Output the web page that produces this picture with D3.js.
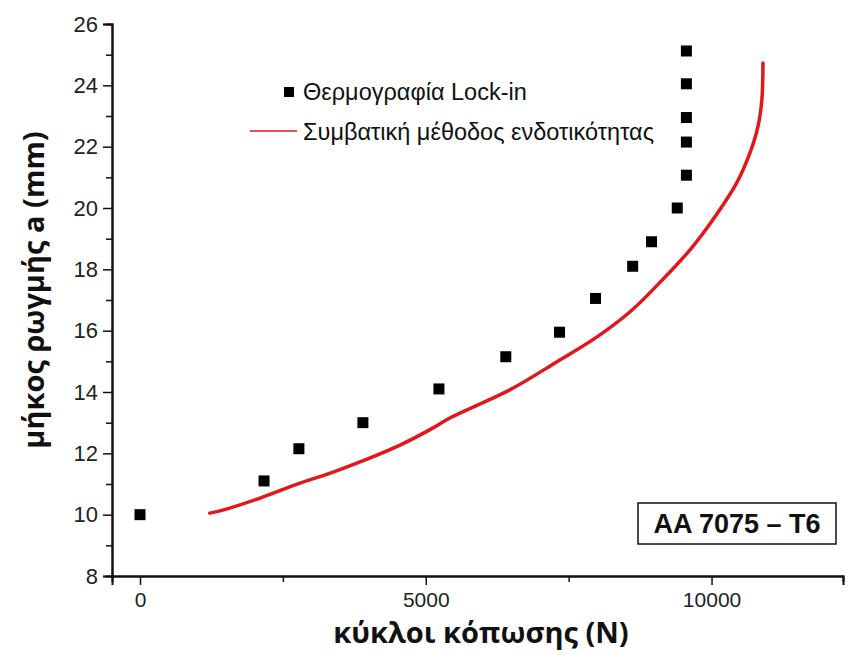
<!DOCTYPE html>
<meta charset="utf-8">
<head>
<style>
body { margin: 0; background: #fff; }
text { font-family: "Liberation Sans", Arial, sans-serif; }
</style>
<script src="https://cdnjs.cloudflare.com/ajax/libs/d3/7.8.5/d3.min.js"></script>
</head>
<body>
<div id="vis-container"></div>
<script>
// lock-in thermography measurements
var lockCycles = [0, 2170, 2780, 3900, 5230, 6400, 7340, 7970, 8620, 8950, 9400, 9560, 9560, 9560, 9560, 9560];
var lockLength = [10.0, 11.1, 12.15, 13.0, 14.1, 15.15, 15.95, 17.05, 18.1, 18.9, 20.0, 21.07, 22.15, 22.95, 24.05, 25.12];

// compliance method curve
var compCycles = [1220, 1450, 2100, 2800, 3380, 3850, 4550, 5130, 5420, 6470, 7290, 7990, 8570, 8970, 9620, 10020, 10440, 10670, 10810, 10880, 10900];
var compLength = [10.05, 10.15, 10.54, 11.03, 11.39, 11.72, 12.27, 12.83, 13.15, 14.07, 14.98, 15.79, 16.61, 17.33, 18.63, 19.61, 20.82, 21.79, 22.64, 23.52, 24.73];

var xMajor = [0, 5000, 10000];
var xMinor = [2500, 7500];
var yMajor = [8, 10, 12, 14, 16, 18, 20, 22, 24, 26];
var yMinor = [9, 11, 13, 15, 17, 19, 21, 23, 25];

var legendNames = ['Θερμογραφία Lock-in', 'Συμβατική μέθοδος ενδοτικότητας'];

var width = 845, height = 655;
var red = '#e3161b';

var svg = d3.select('#vis-container').append('svg')
	.attr('width', width)
	.attr('height', height);

var x = d3.scaleLinear().domain([-490, 12300]).range([112, 843]);
var y = d3.scaleLinear().domain([8, 26]).range([576, 24]);

// axes
svg.append('g')
	.attr('class', 'xaxis')
	.attr('transform', 'translate(0,576)')
	.call(d3.axisBottom(x).tickValues(xMajor).tickSize(9).tickPadding(7).tickFormat(d3.format('d')));
svg.append('g')
	.attr('transform', 'translate(0,576)')
	.call(d3.axisBottom(x).tickValues(xMinor).tickSize(6).tickFormat(''));

svg.append('g')
	.attr('class', 'yaxis')
	.attr('transform', 'translate(112,0)')
	.call(d3.axisLeft(y).tickValues(yMajor).tickSize(9).tickPadding(5));
svg.append('g')
	.attr('transform', 'translate(112,0)')
	.call(d3.axisLeft(y).tickValues(yMinor).tickSize(6).tickFormat(''));

svg.selectAll('.domain').attr('stroke', '#111').attr('stroke-width', 2);
svg.selectAll('.tick line').attr('stroke', '#111').attr('stroke-width', 1.5);
svg.selectAll('.tick text').attr('fill', '#222');
svg.selectAll('.xaxis .tick text').style('font-size', '21px');
svg.selectAll('.yaxis .tick text').style('font-size', '22px');

// axis titles
svg.append('text')
	.attr('x', 481)
	.attr('y', 643)
	.attr('text-anchor', 'middle')
	.style('font-family', '"Open Sans", sans-serif')
	.style('font-weight', 'bold')
	.style('font-size', '29px')
	.attr('fill', '#111')
	.text('κύκλοι κόπωσης (N)');

svg.append('text')
	.attr('transform', 'translate(44,290) rotate(-90)')
	.attr('text-anchor', 'middle')
	.style('font-family', '"Open Sans", sans-serif')
	.style('font-weight', 'bold')
	.style('font-size', '29px')
	.attr('fill', '#111')
	.text('μήκος ρωγμής a (mm)');

// compliance curve
var line = d3.line()
	.x(function(d) { return x(d[0]) })
	.y(function(d) { return y(d[1]) })
	.curve(d3.curveCatmullRom);

svg.append('path')
	.datum(d3.zip(compCycles, compLength))
	.attr('d', line)
	.attr('fill', 'none')
	.attr('stroke', red)
	.attr('stroke-width', 3.5)
	.attr('stroke-linecap', 'round');

// thermography squares
var sq = 11;
svg.selectAll('rect.dot')
	.data(d3.zip(lockCycles, lockLength))
	.enter().append('rect')
	.attr('class', 'dot')
	.attr('x', function(d) { return x(d[0]) - sq / 2 })
	.attr('y', function(d) { return y(d[1]) - sq / 2 })
	.attr('width', sq)
	.attr('height', sq)
	.attr('fill', '#000');

// legend
var legend = svg.append('g');
legend.append('rect')
	.attr('x', 284).attr('y', 87).attr('width', 10).attr('height', 10)
	.attr('fill', '#000');
legend.append('text')
	.attr('x', 303).attr('y', 100)
	.style('font-size', '23.5px')
	.attr('fill', '#111')
	.text(legendNames[0]);
legend.append('line')
	.attr('x1', 250).attr('x2', 297).attr('y1', 131).attr('y2', 131)
	.attr('stroke', red).attr('stroke-width', 1.5);
legend.append('text')
	.attr('x', 303).attr('y', 140)
	.style('font-size', '23.5px')
	.attr('fill', '#111')
	.text(legendNames[1]);

// material label
svg.append('rect')
	.attr('x', 638).attr('y', 503).attr('width', 198).attr('height', 41)
	.attr('fill', '#fff')
	.attr('stroke', '#111')
	.attr('stroke-width', 1.5);
svg.append('text')
	.attr('x', 737).attr('y', 533)
	.attr('text-anchor', 'middle')
	.style('font-weight', 'bold')
	.style('font-size', '27px')
	.attr('fill', '#111')
	.text('AA 7075 – T6');
</script>
</body>
</html>
